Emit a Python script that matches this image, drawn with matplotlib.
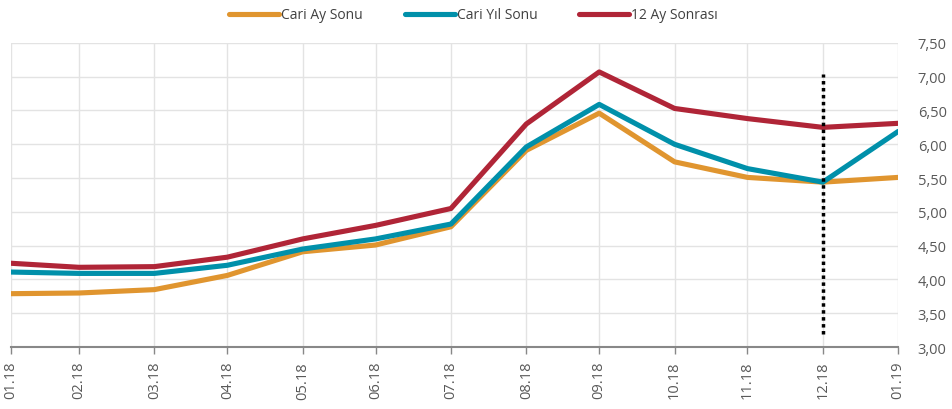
import matplotlib
matplotlib.use("Agg")
import matplotlib.pyplot as plt
import pandas as pd

# month-end dates (the axis is a date axis, so gaps follow days in month)
dates = pd.date_range("2018-01-31", "2019-01-31", freq="ME")
labels = ["01.18", "02.18", "03.18", "04.18", "05.18", "06.18", "07.18",
          "08.18", "09.18", "10.18", "11.18", "12.18", "01.19"]

cari_ay = [3.79, 3.80, 3.85, 4.06, 4.41, 4.51, 4.78, 5.91, 6.46, 5.74, 5.51, 5.44, 5.51]
cari_yil = [4.11, 4.09, 4.09, 4.21, 4.45, 4.60, 4.82, 5.96, 6.59, 6.00, 5.64, 5.44, 6.19]
ay12 = [4.24, 4.18, 4.19, 4.33, 4.60, 4.80, 5.05, 6.30, 7.07, 6.53, 6.38, 6.25, 6.31]

marker_date = pd.Timestamp("2018-12-31")
marker_range = (3.20, 7.04)

plt.rcParams['font.family'] = ['Open Sans', 'DejaVu Sans']

fig = plt.figure(figsize=(9.53, 4.10), dpi=100)
ax = fig.add_axes([0.0115, 0.151, 0.931, 0.742])

ax.plot(dates, cari_ay, color='#E0952F', lw=3.7, label='Cari Ay Sonu', solid_capstyle='round')
ax.plot(dates, cari_yil, color='#0090AA', lw=3.7, label='Cari Yıl Sonu', solid_capstyle='round')
ax.plot(dates, ay12, color='#B02537', lw=3.7, label='12 Ay Sonrası', solid_capstyle='round')

# dotted marker at the last year-end
ax.vlines(marker_date, marker_range[0], marker_range[1], colors='black',
          linestyles=(0, (1, 1)), lw=2.5, zorder=5)

ax.set_xlim(dates[0], dates[-1])
ax.set_ylim(3.0, 7.5)
ax.set_xticks(dates)
ax.set_xticklabels(labels, rotation=90, fontsize=10.5, color='#595959')
ax.set_yticks([3.0 + 0.5 * i for i in range(10)])
ax.set_yticklabels([f"{3.0 + 0.5 * i:.2f}".replace('.', ',') for i in range(10)],
                   fontsize=10.5, color='#595959')
ax.yaxis.tick_right()
ax.tick_params(axis='y', length=0, pad=14)
ax.tick_params(axis='x', length=5, color='#888888', width=1, pad=5)

ax.grid(True, color='#E3E3E3', lw=1)
ax.set_axisbelow(True)
for s in ['top', 'left', 'right']:
    ax.spines[s].set_visible(False)
ax.spines['bottom'].set_color('#888888')
ax.spines['bottom'].set_linewidth(1.5)

fig.legend(loc='upper center', bbox_to_anchor=(0.497, 1.01), ncol=3, frameon=False,
           fontsize=10, handlelength=3.6, handletextpad=0.15, columnspacing=3.0,
           labelcolor='#404040')

fig.savefig("out.png", dpi=100)
